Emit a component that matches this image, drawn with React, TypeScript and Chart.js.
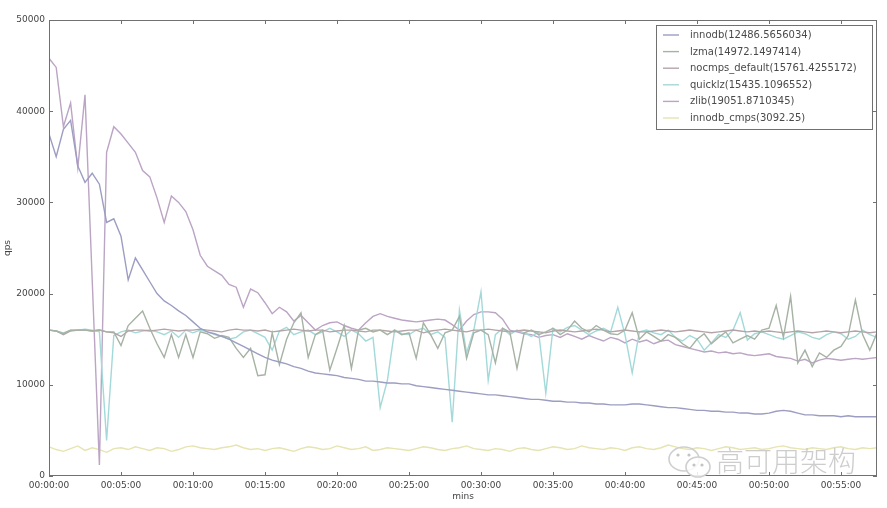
import React, { useEffect, useRef } from "react";
import { Chart, registerables } from "chart.js";

Chart.register(...registerables);

// sampling interval of the series (minutes between points)
const SAMPLE_MINUTES = 0.5;

const xTickMinutes = [0, 5, 10, 15, 20, 25, 30, 35, 40, 45, 50, 55];
const yTickValues = [0, 10000, 20000, 30000, 40000, 50000];

const seriesLabels = [
  "innodb(12486.5656034)",
  "lzma(14972.1497414)",
  "nocmps_default(15761.4255172)",
  "quicklz(15435.1096552)",
  "zlib(19051.8710345)",
  "innodb_cmps(3092.25)",
];

const seriesColors = ["#9c9dc2", "#a6b2a4", "#b4a4a8", "#a3d9d9", "#bba4c4", "#e6e4b0"];

const innodb = [
  37500, 35000, 38000, 39000, 34000, 32200, 33200, 32000, 27800, 28200,
  26300, 21500, 23900, 22600, 21300, 20000, 19200, 18700, 18100, 17600,
  16900, 16200, 15800, 15600, 15300, 15000, 14600, 14200, 13800, 13400,
  13000, 12700, 12500, 12300, 12000, 11800, 11500, 11300, 11200, 11100,
  11000, 10800, 10700, 10600, 10400, 10400, 10300, 10200, 10200, 10100,
  10100, 9900, 9800, 9700, 9600, 9500, 9400, 9300, 9200, 9100,
  9000, 8900, 8900, 8800, 8700, 8600, 8500, 8400, 8400, 8300,
  8200, 8200, 8100, 8100, 8000, 8000, 7900, 7900, 7800, 7800,
  7800, 7900, 7900, 7800, 7700, 7600, 7500, 7500, 7400, 7300,
  7200, 7200, 7100, 7100, 7000, 7000, 6900, 6900, 6800, 6800,
  6900, 7100, 7200, 7100, 6900, 6700, 6700, 6600, 6600, 6600,
  6500, 6600, 6500, 6500, 6500, 6500,
];

const lzma = [
  16000, 15900, 15600, 16000, 16000, 16000, 15900, 16000, 15800, 15800,
  14300, 16500, 17300, 18100, 16200, 14500, 13000, 15500, 13000, 15500,
  13000, 15800, 15600, 15100, 15400, 15200, 14000, 13000, 14000, 11000,
  11100, 15700, 12200, 15000, 16800, 17900, 13000, 15500, 16000, 11600,
  14000, 16500, 11800, 16000, 16200, 15800, 16000, 15500, 16000, 15500,
  15700, 12900, 16800, 15500, 14000, 15700, 16000, 17500, 12900, 15700,
  16000, 15500, 12400, 16200, 15800, 11800, 15700, 16000, 15500, 15800,
  16200, 15500, 16000, 17000, 16200, 15800, 16500, 16000, 15600, 15500,
  16000, 17900, 15000, 15800, 15300, 14800, 15500, 15200, 14500, 14000,
  15000, 15600, 14500, 15200, 15800, 14600, 15000, 15400, 15000, 16000,
  16200, 18700, 15200, 19700, 12400, 13800, 12000, 13500, 13000, 13800,
  14200, 15400, 19300, 15500, 13800, 15700,
];

const nocmpsDefault = [
  16000, 15900, 15500, 15900, 16000, 16000, 15900, 16000, 15800, 15700,
  15300, 15900, 16000, 16000, 15900, 16000, 16100, 16000, 15900, 16000,
  16000, 16100, 16000, 15900, 15800, 16000, 16100, 16000, 16000, 15900,
  16000, 15800, 15900, 16000, 16100, 16000, 15900, 16000, 16000, 15800,
  15900, 16000, 16000, 15900, 15800, 16000, 16000, 15900, 15800, 15900,
  16000, 16000, 15700, 15900, 16000, 16100, 16000, 15900, 15800, 16000,
  16000, 16100, 16000, 15900, 15800, 15900, 16000, 15900, 15800, 15700,
  15900, 16000, 15900, 15800, 15900, 16000, 16100, 16000, 15800, 15900,
  16000, 15900, 15800, 15800, 15900, 16000, 15900, 15800, 15900, 16000,
  15900, 15800, 15700, 15800, 15900, 16000, 15900, 15800, 15900, 15800,
  15900, 15800, 15700, 15800, 15900, 15800, 15700, 15800, 15900, 15800,
  15700, 15800, 15900, 15800, 15700, 15800,
];

const quicklz = [
  16000, 15900, 15700, 16000, 16000, 16100, 16000, 15800, 3900, 15400,
  15800, 16000, 15700, 15900, 16000, 15800, 15500, 15900, 15200, 16000,
  15700, 16000, 15800, 15500, 15300, 15000, 15200, 15800, 16000, 15600,
  15200, 13800, 15900, 16300, 15500, 15800, 16000, 15500, 15800, 16200,
  15800, 15300, 16000, 15600, 14800, 15200, 7500, 10500, 16000, 15600,
  15500, 16000, 16200, 15500, 15800, 15200, 5900, 18200, 13500, 16000,
  20200, 10500, 15500, 16200, 15500, 16000, 15700, 15300, 15800, 9100,
  16200, 15800, 16300, 16500, 16000, 15500, 15900, 16200, 15800, 18500,
  15500, 11300, 15800, 16000, 15700, 15500, 16000, 15200, 14800, 15400,
  15000, 13800, 14600, 15500, 15200, 16000, 17900, 14900, 15600, 15800,
  15500, 15200, 15000, 15400, 15800, 15600, 15200, 15000, 15500, 15800,
  15600, 15000, 15300, 16000, 15500, 15200,
];

const zlib = [
  45800, 44800, 38300, 40900, 33800, 41800, 21500, 1200, 35500, 38300,
  37500, 36500, 35500, 33500, 32800, 30500, 27800, 30700, 30000, 29000,
  27000, 24200, 23000, 22500, 22000, 21000, 20700, 18500, 20500, 20100,
  19000, 17800, 18500, 18000, 17000, 17600, 16800, 16000, 16500, 16800,
  16900, 16500, 16200, 16000, 16800, 17500, 17800, 17500, 17300, 17100,
  17000, 16900, 17000, 17100, 17200, 17100, 16600, 16000, 17000, 17700,
  18000, 18000, 17900, 17200, 16000, 15800, 15600, 15500, 15200, 15400,
  15500, 15200, 15600, 15300, 15000, 15400, 15100, 14800, 15200, 15000,
  14600, 15000, 14700, 14900, 14500, 14800, 14900, 14400, 14200, 14000,
  13800, 13600, 13700, 13500, 13600, 13400, 13500, 13300, 13200, 13300,
  13400, 13100, 13000, 12900, 12600, 12800, 12400, 12700, 12900, 12800,
  12700, 12800, 12900, 12800, 12900, 13000,
];

const innodbCmps = [
  3200, 2900, 2700, 3000, 3300, 2800, 3100, 2900, 2600, 3000,
  3100, 2900, 3200, 3000, 2800, 3100, 3000, 2700, 2900, 3200,
  3300, 3100, 3000, 2900, 3100, 3200, 3400, 3100, 2900, 3000,
  2800, 3000, 3100, 2900, 2700, 3000, 3200, 3100, 2900, 3000,
  3300, 3100, 2900, 3000, 3200, 2800, 2900, 3100, 3000, 2900,
  2800, 3000, 3200, 3100, 2900, 2800, 3000, 3100, 3300, 3000,
  2900, 2800, 3000, 2900, 2700, 3000, 3100, 2900, 2800, 3000,
  3200, 3100, 2900, 3000, 3300, 3100, 3000, 2900, 3100, 3000,
  2800, 3100, 3200, 3000, 2900, 3100, 3400, 3200, 3000, 2900,
  3100, 3000, 2800, 3000, 3200, 3100, 2900, 3000, 3100, 2900,
  3000, 3200, 3300, 3100, 3000, 2900, 3100, 3000, 2900, 3100,
  3200, 3000, 2900, 3100, 3000, 3100,
];

const allSeries = [innodb, lzma, nocmpsDefault, quicklz, zlib, innodbCmps];

const X_MAX_MIN = 57.5;
const TICK_FONT = { family: "'DejaVu Sans', sans-serif", size: 9 };

function fmtMinutes(m: number) {
  return `00:${String(m).padStart(2, "0")}:00`;
}

const decorPlugin = {
  id: "decor",
  afterDatasetsDraw(chart: any) {
    const { ctx, chartArea: a, scales } = chart;
    ctx.save();
    ctx.strokeStyle = "#707070";
    ctx.lineWidth = 1;
    ctx.strokeRect(a.left + 0.5, a.top + 0.5, a.right - a.left - 1, a.bottom - a.top - 1);
    ctx.beginPath();
    xTickMinutes.forEach((m) => {
      const px = Math.round(scales.x.getPixelForValue(m)) + 0.5;
      ctx.moveTo(px, a.bottom);
      ctx.lineTo(px, a.bottom - 4);
      ctx.moveTo(px, a.top);
      ctx.lineTo(px, a.top + 4);
    });
    yTickValues.forEach((v) => {
      const py = Math.round(scales.y.getPixelForValue(v)) + 0.5;
      ctx.moveTo(a.left, py);
      ctx.lineTo(a.left + 4, py);
      ctx.moveTo(a.right, py);
      ctx.lineTo(a.right - 4, py);
    });
    ctx.stroke();
    ctx.restore();
  },
  afterDraw(chart: any) {
    const { ctx } = chart;
    ctx.save();
    // legend box
    const bx = 656, by = 25, bw = 216, bh = 104;
    ctx.fillStyle = "#ffffff";
    ctx.fillRect(bx, by, bw, bh);
    ctx.strokeStyle = "#707070";
    ctx.lineWidth = 1;
    ctx.strokeRect(bx + 0.5, by + 0.5, bw, bh);
    ctx.font = "10px 'DejaVu Sans', sans-serif";
    ctx.textBaseline = "middle";
    seriesLabels.forEach((label, i) => {
      const y = 35 + i * 16.6;
      ctx.strokeStyle = seriesColors[i];
      ctx.lineWidth = 1.4;
      ctx.beginPath();
      ctx.moveTo(663, y);
      ctx.lineTo(679, y);
      ctx.stroke();
      ctx.fillStyle = "#4a4a4a";
      ctx.fillText(label, 690, y + 0.5);
    });
    // watermark
    ctx.strokeStyle = "#cfcfcf";
    ctx.lineWidth = 1.6;
    ctx.beginPath();
    ctx.ellipse(684, 459, 15, 12, 0, 0, Math.PI * 2);
    ctx.stroke();
    ctx.fillStyle = "rgba(255,255,255,0.85)";
    ctx.beginPath();
    ctx.ellipse(698, 467, 12, 10, 0, 0, Math.PI * 2);
    ctx.fill();
    ctx.stroke();
    ctx.fillStyle = "#c4c4c4";
    [[678, 455], [689, 455], [694, 465], [702, 465]].forEach(([x, y]) => {
      ctx.beginPath();
      ctx.arc(x, y, 1.6, 0, Math.PI * 2);
      ctx.fill();
    });
    ctx.font = "300 28px 'Noto Sans CJK SC', sans-serif";
    ctx.textBaseline = "alphabetic";
    ctx.fillStyle = "rgba(200,200,200,0.9)";
    ctx.fillText("高可用架构", 716, 472);
    ctx.restore();
  },
};

export default function App() {
  const canvasRef = useRef<HTMLCanvasElement | null>(null);

  useEffect(() => {
    document.body.style.margin = "0";
    const canvas = canvasRef.current;
    if (!canvas) return;
    const datasets = allSeries.map((values, i) => ({
      label: seriesLabels[i],
      data: values.map((v, idx) => ({ x: idx * SAMPLE_MINUTES, y: v })),
      borderColor: seriesColors[i],
      backgroundColor: seriesColors[i],
      borderWidth: 1.4,
      pointRadius: 0,
      tension: 0,
      fill: false,
    }));
    const chart = new Chart(canvas, {
      type: "line",
      data: { datasets },
      options: {
        animation: false,
        responsive: false,
        devicePixelRatio: 1,
        layout: { padding: { left: 0, right: 10, top: 20, bottom: 0 } },
        plugins: { legend: { display: false }, tooltip: { enabled: false } },
        scales: {
          x: {
            type: "linear",
            min: 0,
            max: X_MAX_MIN,
            afterBuildTicks: (scale: any) => {
              scale.ticks = xTickMinutes.map((v) => ({ value: v }));
            },
            afterFit: (scale: any) => {
              scale.height = 32;
            },
            grid: { display: false, drawTicks: false },
            border: { display: false },
            ticks: {
              font: TICK_FONT,
              color: "#444",
              padding: 4,
              maxRotation: 0,
              autoSkip: false,
              callback: (v: any) => fmtMinutes(Number(v)),
            },
            title: {
              display: true,
              text: "mins",
              font: TICK_FONT,
              color: "#444",
              padding: { top: 0, bottom: 6 },
            },
          },
          y: {
            type: "linear",
            min: 0,
            max: 50000,
            afterBuildTicks: (scale: any) => {
              scale.ticks = yTickValues.map((v) => ({ value: v }));
            },
            afterFit: (scale: any) => {
              scale.width = 49;
            },
            grid: { display: false, drawTicks: false },
            border: { display: false },
            ticks: {
              font: TICK_FONT,
              color: "#444",
              padding: 4,
              callback: (v: any) => String(v),
            },
            title: {
              display: true,
              text: "qps",
              font: TICK_FONT,
              color: "#444",
              padding: { top: 2, bottom: 0 },
            },
          },
        },
      },
      plugins: [decorPlugin],
    });
    return () => chart.destroy();
  }, []);

  return (
    <div style={{ width: 887, height: 508, position: "relative", background: "#fff" }}>
      <canvas ref={canvasRef} width={887} height={508} />
    </div>
  );
}
